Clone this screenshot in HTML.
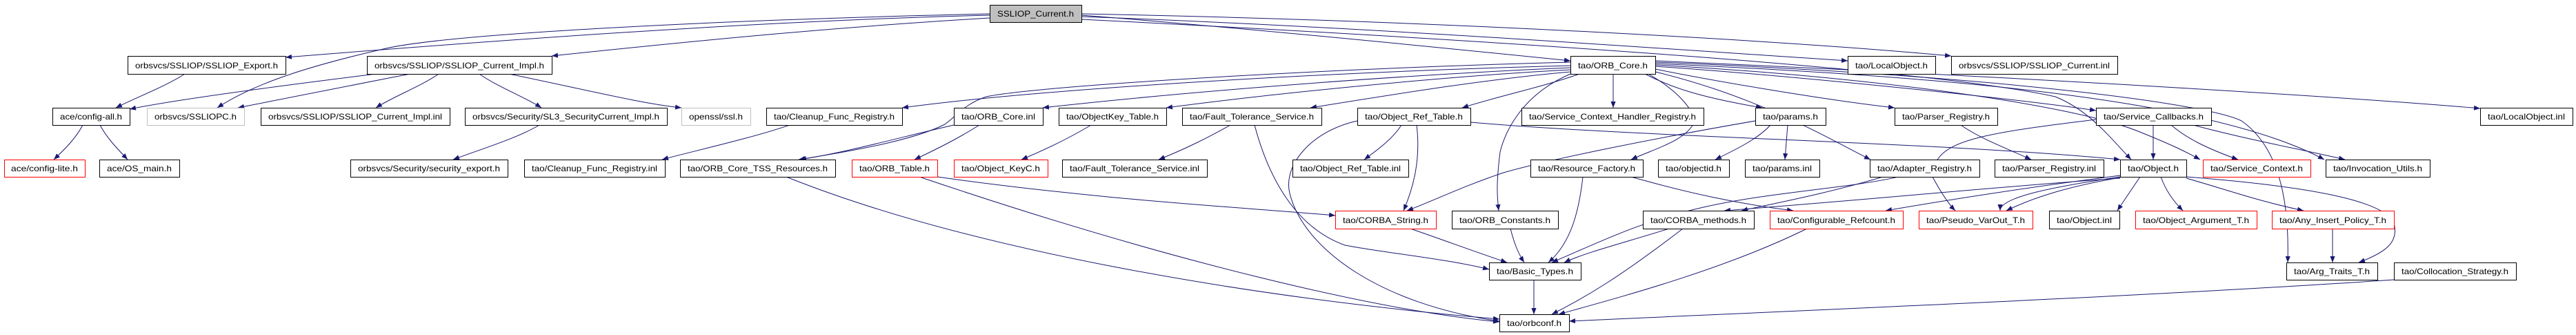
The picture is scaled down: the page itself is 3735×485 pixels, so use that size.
<!DOCTYPE html>
<html><head><meta charset="utf-8"><style>
html,body{margin:0;padding:0;background:#fff;}
svg{display:block;}
text{font-family:"Liberation Sans",sans-serif;font-size:12px;fill:#000;}
</style></head><body>
<svg width="3735" height="485" viewBox="0 0 3735 485" xmlns="http://www.w3.org/2000/svg">
<defs>
<marker id="a" viewBox="0 0 10 10" refX="10" refY="5" markerWidth="9" markerHeight="9" markerUnits="userSpaceOnUse" orient="auto">
<path d="M0,1 L10,5 L0,9 z" fill="#191970"/>
</marker>
</defs>
<g fill="none" stroke="#191970" stroke-width="1" marker-end="url(#a)">
<!-- from SSLIOP_Current.h -->
<path d="M1435,22 C1100,30 700,60 414,83"/>
<path d="M1435,26 C1200,40 1000,60 800,81"/>
<path d="M1435,20 C1000,30 650,50 560,70 C450,95 370,120 315,156"/>
<path d="M1568,22 C1800,40 2100,70 2277,88"/>
<path d="M1568,24 C2000,40 2400,70 2679,88"/>
<path d="M1568,20 C2100,30 2600,60 2829,81"/>
<path d="M1568,28 C2200,60 2800,100 2980,140 C3030,160 3060,200 3090,231"/>
<!-- SSLIOP_Export -->
<path d="M268,107 C240,125 200,140 168,156"/>
<!-- SSLIOP_Current_Impl -->
<path d="M545,107 C400,125 250,145 188,158"/>
<path d="M595,107 C500,125 400,145 345,156"/>
<path d="M636,107 C610,125 570,140 545,156"/>
<path d="M695,107 C720,125 760,140 785,156"/>
<path d="M738,107 C850,130 930,150 988,156"/>
<!-- SL3 -->
<path d="M782,181 C750,200 700,215 657,231"/>
<!-- config-all -->
<path d="M120,181 C110,200 95,215 78,231"/>
<path d="M145,181 C155,200 170,215 185,231"/>
<!-- Cleanup_Func_Registry.h -->
<path d="M1145,181 C1090,200 1000,220 960,231"/>
<!-- ORB_Core.h -->
<path d="M2277,95 C1900,105 1500,130 1308,156"/>
<path d="M2277,98 C2000,110 1700,135 1512,156"/>
<path d="M2277,101 C2100,110 1850,135 1691,156"/>
<path d="M2277,104 C2150,115 2000,140 1900,156"/>
<path d="M2277,90 C1900,100 1500,125 1430,140 C1400,150 1390,165 1370,180 C1330,200 1260,215 1158,231"/>
<path d="M2290,107 C2240,125 2170,140 2120,156"/>
<path d="M2339,107 L2339,156"/>
<path d="M2385,107 C2420,125 2460,140 2555,156"/>
<path d="M2400,100 C2500,120 2650,145 2747,156"/>
<path d="M2400,96 C2600,110 2900,140 3039,160"/>
<path d="M2400,94 C2700,110 3000,150 3100,190 C3150,210 3170,220 3190,231" />
<path d="M2400,92 C2800,110 3200,140 3370,231"/>
<path d="M2400,88 C2900,110 3400,140 3596,157"/>
<path d="M2400,104 C2550,140 2650,200 2712,231"/>
<path d="M2390,107 C2430,130 2460,160 2455,180 C2440,205 2400,215 2365,231"/>
<path d="M2277,107 C2200,140 2180,200 2175,220 C2170,260 2170,280 2173,305"/>
<path d="M2400,90 C2900,110 3200,150 3250,175 C3300,210 3320,280 3317,380"/>
<!-- ORB_Core.inl -->
<path d="M1383,181 C1300,200 1230,220 1160,231"/>
<path d="M1420,181 C1390,200 1360,215 1326,231"/>
<!-- ObjectKey_Table -->
<path d="M1582,181 C1550,200 1520,215 1481,231"/>
<!-- Fault_Tolerance_Service.h -->
<path d="M1784,181 C1750,200 1720,215 1680,231"/>
<path d="M1819,181 C1840,260 1880,330 1950,355 C2000,365 2100,375 2159,390"/>
<!-- ORB_Core_TSS_Resources -->
<path d="M1140,256 C1400,360 1800,430 2174,462"/>
<!-- ORB_Table -->
<path d="M1333,256 C1700,380 2000,450 2174,466"/>
<path d="M1359,256 C1600,290 1800,300 1936,312"/>
<!-- Object_Ref_Table.h -->
<path d="M2032,181 C2020,200 2000,215 1978,231"/>
<path d="M2054,181 C2060,230 2050,270 2035,305"/>
<path d="M1968,175 C1900,190 1860,240 1870,280 C1890,360 2000,440 2174,465"/>
<path d="M2132,177 C2400,200 2800,205 3074,231"/>
<!-- params.h -->
<path d="M2567,181 C2550,200 2520,215 2487,231"/>
<path d="M2592,181 L2588,231"/>
<path d="M2545,175 C2400,200 2250,230 2180,250 C2120,270 2080,290 2040,305"/>
<!-- Resource_Factory -->
<path d="M2295,256 C2290,300 2280,350 2245,380"/>
<path d="M2365,256 C2450,280 2520,295 2600,305"/>
<!-- Adapter_Registry -->
<path d="M2730,256 C2650,280 2570,295 2525,305"/>
<path d="M2802,256 C2815,280 2825,295 2835,305"/>
<!-- Parser_Registry -->
<path d="M2843,181 C2870,200 2910,215 2945,231"/>
<!-- Service_Callbacks -->
<path d="M3122,181 L3122,231"/>
<path d="M3148,181 C3170,200 3200,215 3245,231"/>
<path d="M3180,181 C3250,200 3330,215 3400,231"/>
<path d="M3039,173 C2900,190 2830,200 2810,230 C2780,270 2600,270 2470,300 C2380,320 2320,350 2250,380"/>
<!-- Object.h -->
<path d="M3074,254 C2950,270 2850,285 2734,305"/>
<path d="M3074,256 C2980,270 2900,285 2900,305"/>
<path d="M3074,257 C3000,270 2950,285 2909,305"/>
<path d="M3103,256 C3090,275 3080,290 3070,305"/>
<path d="M3133,256 C3140,275 3150,290 3165,305"/>
<path d="M3170,258 C3230,275 3270,290 3340,305"/>
<path d="M3170,256 C3350,270 3450,290 3470,320 C3480,350 3460,365 3420,380"/>
<path d="M3074,258 C2900,270 2700,290 2500,305"/>
<!-- Any_Insert -->
<path d="M3382,331 L3382,380"/>
<!-- CORBA_String -->
<path d="M2045,331 C2100,350 2140,365 2185,380"/>
<!-- ORB_Constants -->
<path d="M2190,331 C2195,350 2200,365 2210,380"/>
<!-- CORBA_methods -->
<path d="M2420,331 C2360,350 2300,365 2268,380"/>
<path d="M2440,331 C2350,400 2300,430 2250,455"/>
<!-- Configurable_Refcount -->
<path d="M2620,331 C2500,390 2350,430 2260,455"/>
<!-- Basic_Types -->
<path d="M2224,405 L2224,455"/>
<!-- Collocation_Strategy -->
<path d="M3471,405 C3100,430 2600,450 2275,465"/>
</g>
<g stroke-width="1" fill="#fff" stroke="#000">
<rect x="1435.5" y="7.5" width="133" height="25" fill="#bfbfbf"/>
<rect x="185.5" y="81.5" width="229" height="26"/>
<rect x="532.5" y="81.5" width="268" height="26"/>
<rect x="2277.5" y="81.5" width="123" height="26"/>
<rect x="2679.5" y="81.5" width="127" height="26"/>
<rect x="2829.5" y="81.5" width="241" height="26"/>
<rect x="76.5" y="156.5" width="112" height="25"/>
<rect x="213.5" y="156.5" width="141" height="25" stroke="#bfbfbf"/>
<rect x="378.5" y="156.5" width="274" height="25"/>
<rect x="674.5" y="156.5" width="293" height="25"/>
<rect x="988.5" y="156.5" width="100" height="25" stroke="#bfbfbf"/>
<rect x="1111.5" y="156.5" width="197" height="25"/>
<rect x="1383.5" y="156.5" width="129" height="25"/>
<rect x="1535.5" y="156.5" width="156" height="25"/>
<rect x="1714.5" y="156.5" width="202" height="25"/>
<rect x="1968.5" y="156.5" width="164" height="25"/>
<rect x="2206.5" y="156.5" width="264" height="25"/>
<rect x="2545.5" y="156.5" width="102" height="25"/>
<rect x="2747.5" y="156.5" width="149" height="25"/>
<rect x="3039.5" y="156.5" width="167" height="25"/>
<rect x="3596.5" y="156.5" width="134" height="25"/>
<rect x="6.5" y="231.5" width="117" height="25" stroke="#ff0000"/>
<rect x="144.5" y="231.5" width="116" height="25"/>
<rect x="508.5" y="231.5" width="228" height="25"/>
<rect x="760.5" y="231.5" width="204" height="25"/>
<rect x="986.5" y="231.5" width="225" height="25"/>
<rect x="1235.5" y="231.5" width="124" height="25" stroke="#ff0000"/>
<rect x="1383.5" y="231.5" width="136" height="25" stroke="#ff0000"/>
<rect x="1540.5" y="231.5" width="210" height="25"/>
<rect x="1874.5" y="231.5" width="168" height="25"/>
<rect x="2219.5" y="231.5" width="163" height="25"/>
<rect x="2404.5" y="231.5" width="103" height="25"/>
<rect x="2530.5" y="231.5" width="108" height="25"/>
<rect x="2711.5" y="231.5" width="159" height="25"/>
<rect x="2892.5" y="231.5" width="158" height="25"/>
<rect x="3074.5" y="231.5" width="96" height="25"/>
<rect x="3194.5" y="231.5" width="156" height="25" stroke="#ff0000"/>
<rect x="3372.5" y="231.5" width="151" height="25"/>
<rect x="1936.5" y="305.5" width="146" height="26" stroke="#ff0000"/>
<rect x="2105.5" y="305.5" width="154" height="26"/>
<rect x="2382.5" y="305.5" width="161" height="26"/>
<rect x="2566.5" y="305.5" width="193" height="26" stroke="#ff0000"/>
<rect x="2782.5" y="305.5" width="165" height="26" stroke="#ff0000"/>
<rect x="2971.5" y="305.5" width="102" height="26"/>
<rect x="3096.5" y="305.5" width="176" height="26" stroke="#ff0000"/>
<rect x="3294.5" y="305.5" width="177" height="26" stroke="#ff0000"/>
<rect x="2159.5" y="380.5" width="133" height="25"/>
<rect x="3315.5" y="380.5" width="132" height="25"/>
<rect x="3471.5" y="380.5" width="177" height="25"/>
<rect x="2174.5" y="455.5" width="101" height="25"/>
</g>
<g text-anchor="start" lengthAdjust="spacingAndGlyphs">
<text x="1446" y="24" textLength="111" lengthAdjust="spacingAndGlyphs">SSLIOP_Current.h</text>
<text x="196" y="99" textLength="207" lengthAdjust="spacingAndGlyphs">orbsvcs/SSLIOP/SSLIOP_Export.h</text>
<text x="543" y="99" textLength="246" lengthAdjust="spacingAndGlyphs">orbsvcs/SSLIOP/SSLIOP_Current_Impl.h</text>
<text x="2288" y="99" textLength="101" lengthAdjust="spacingAndGlyphs">tao/ORB_Core.h</text>
<text x="2690" y="99" textLength="105" lengthAdjust="spacingAndGlyphs">tao/LocalObject.h</text>
<text x="2840" y="99" textLength="219" lengthAdjust="spacingAndGlyphs">orbsvcs/SSLIOP/SSLIOP_Current.inl</text>
<text x="87" y="173" textLength="90" lengthAdjust="spacingAndGlyphs">ace/config-all.h</text>
<text x="224" y="173" textLength="119" lengthAdjust="spacingAndGlyphs">orbsvcs/SSLIOPC.h</text>
<text x="389" y="173" textLength="252" lengthAdjust="spacingAndGlyphs">orbsvcs/SSLIOP/SSLIOP_Current_Impl.inl</text>
<text x="685" y="173" textLength="271" lengthAdjust="spacingAndGlyphs">orbsvcs/Security/SL3_SecurityCurrent_Impl.h</text>
<text x="999" y="173" textLength="78" lengthAdjust="spacingAndGlyphs">openssl/ssl.h</text>
<text x="1122" y="173" textLength="175" lengthAdjust="spacingAndGlyphs">tao/Cleanup_Func_Registry.h</text>
<text x="1394" y="173" textLength="107" lengthAdjust="spacingAndGlyphs">tao/ORB_Core.inl</text>
<text x="1546" y="173" textLength="134" lengthAdjust="spacingAndGlyphs">tao/ObjectKey_Table.h</text>
<text x="1725" y="173" textLength="180" lengthAdjust="spacingAndGlyphs">tao/Fault_Tolerance_Service.h</text>
<text x="1979" y="173" textLength="142" lengthAdjust="spacingAndGlyphs">tao/Object_Ref_Table.h</text>
<text x="2217" y="173" textLength="242" lengthAdjust="spacingAndGlyphs">tao/Service_Context_Handler_Registry.h</text>
<text x="2556" y="173" textLength="80" lengthAdjust="spacingAndGlyphs">tao/params.h</text>
<text x="2758" y="173" textLength="127" lengthAdjust="spacingAndGlyphs">tao/Parser_Registry.h</text>
<text x="3050" y="173" textLength="145" lengthAdjust="spacingAndGlyphs">tao/Service_Callbacks.h</text>
<text x="3607" y="173" textLength="112" lengthAdjust="spacingAndGlyphs">tao/LocalObject.inl</text>
<text x="16" y="248" textLength="97" lengthAdjust="spacingAndGlyphs">ace/config-lite.h</text>
<text x="155" y="248" textLength="94" lengthAdjust="spacingAndGlyphs">ace/OS_main.h</text>
<text x="519" y="248" textLength="206" lengthAdjust="spacingAndGlyphs">orbsvcs/Security/security_export.h</text>
<text x="771" y="248" textLength="182" lengthAdjust="spacingAndGlyphs">tao/Cleanup_Func_Registry.inl</text>
<text x="997" y="248" textLength="203" lengthAdjust="spacingAndGlyphs">tao/ORB_Core_TSS_Resources.h</text>
<text x="1246" y="248" textLength="102" lengthAdjust="spacingAndGlyphs">tao/ORB_Table.h</text>
<text x="1394" y="248" textLength="114" lengthAdjust="spacingAndGlyphs">tao/Object_KeyC.h</text>
<text x="1551" y="248" textLength="188" lengthAdjust="spacingAndGlyphs">tao/Fault_Tolerance_Service.inl</text>
<text x="1885" y="248" textLength="146" lengthAdjust="spacingAndGlyphs">tao/Object_Ref_Table.inl</text>
<text x="2230" y="248" textLength="141" lengthAdjust="spacingAndGlyphs">tao/Resource_Factory.h</text>
<text x="2415" y="248" textLength="81" lengthAdjust="spacingAndGlyphs">tao/objectid.h</text>
<text x="2541" y="248" textLength="86" lengthAdjust="spacingAndGlyphs">tao/params.inl</text>
<text x="2722" y="248" textLength="137" lengthAdjust="spacingAndGlyphs">tao/Adapter_Registry.h</text>
<text x="2903" y="248" textLength="136" lengthAdjust="spacingAndGlyphs">tao/Parser_Registry.inl</text>
<text x="3085" y="248" textLength="74" lengthAdjust="spacingAndGlyphs">tao/Object.h</text>
<text x="3205" y="248" textLength="134" lengthAdjust="spacingAndGlyphs">tao/Service_Context.h</text>
<text x="3383" y="248" textLength="129" lengthAdjust="spacingAndGlyphs">tao/Invocation_Utils.h</text>
<text x="1947" y="323" textLength="124" lengthAdjust="spacingAndGlyphs">tao/CORBA_String.h</text>
<text x="2116" y="323" textLength="132" lengthAdjust="spacingAndGlyphs">tao/ORB_Constants.h</text>
<text x="2393" y="323" textLength="139" lengthAdjust="spacingAndGlyphs">tao/CORBA_methods.h</text>
<text x="2577" y="323" textLength="171" lengthAdjust="spacingAndGlyphs">tao/Configurable_Refcount.h</text>
<text x="2793" y="323" textLength="143" lengthAdjust="spacingAndGlyphs">tao/Pseudo_VarOut_T.h</text>
<text x="2982" y="323" textLength="80" lengthAdjust="spacingAndGlyphs">tao/Object.inl</text>
<text x="3107" y="323" textLength="154" lengthAdjust="spacingAndGlyphs">tao/Object_Argument_T.h</text>
<text x="3305" y="323" textLength="155" lengthAdjust="spacingAndGlyphs">tao/Any_Insert_Policy_T.h</text>
<text x="2170" y="397" textLength="111" lengthAdjust="spacingAndGlyphs">tao/Basic_Types.h</text>
<text x="3326" y="397" textLength="110" lengthAdjust="spacingAndGlyphs">tao/Arg_Traits_T.h</text>
<text x="3482" y="397" textLength="155" lengthAdjust="spacingAndGlyphs">tao/Collocation_Strategy.h</text>
<text x="2185" y="472" textLength="79" lengthAdjust="spacingAndGlyphs">tao/orbconf.h</text>
</g>
</svg>
</body></html>
